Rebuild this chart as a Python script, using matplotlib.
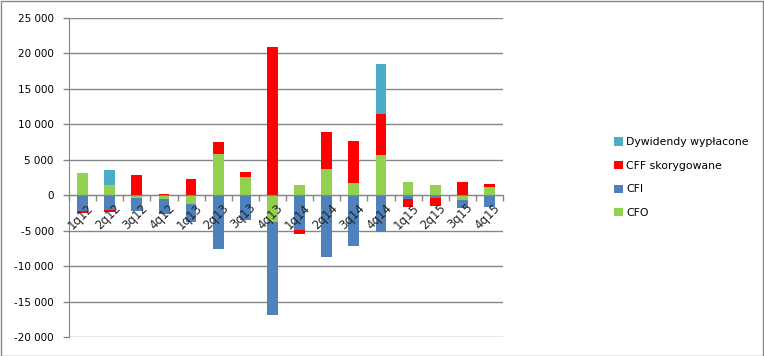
import numpy as np
import matplotlib
matplotlib.use("Agg")
import matplotlib.pyplot as plt
from matplotlib.patches import Rectangle
from matplotlib.ticker import FuncFormatter

quarters = ['1q12', '2q12', '3q12', '4q12', '1q13', '2q13', '3q13', '4q13',
            '1q14', '2q14', '3q14', '4q14', '1q15', '2q15', '3q15', '4q15']

cfo = [3110, 1414, -424, -565, -1272, 5797, 2545, -3817,
       1414, 3676, 1697, 5656, 1838, 1414, -707, 1131]
cfi = [-2262, -2121, -1838, -2121, -2545, -7635, -3535, -13102,
       -4949, -8766, -7211, -5231, -566, -424, -1131, -1697]
cff = [-190, -280, 2828, 141, 2262, 1697, 707, 20926,
       -566, 5231, 5938, 5797, -1131, -1131, 1838, 424]
dyw = [0, 2121, 0, 0, 0, 0, 0, 0,
       0, 0, 0, 7070, 0, 0, 0, 0]

series = [('CFO', cfo, '#92D050'),
          ('CFI', cfi, '#4F81BD'),
          ('CFF skorygowane', cff, '#FF0000'),
          ('Dywidendy wypłacone', dyw, '#4BACC6')]

plt.rcParams['font.family'] = ['DejaVu Sans']
plt.rcParams['font.size'] = 7.5

W, H = 764, 356
fig = plt.figure(figsize=(W / 100, H / 100), dpi=100)
ax = fig.add_axes([69 / W, (H - 337) / H, (503 - 69) / W, (337 - 18) / H])

x = np.arange(len(quarters))
pos_base = np.zeros(len(quarters))
neg_base = np.zeros(len(quarters))
handles = []
for name, vals, col in series:
    v = np.array(vals, dtype=float)
    base = np.where(v >= 0, pos_base, neg_base)
    b = ax.bar(x, v, bottom=base, width=0.4, color=col, label=name, zorder=3)
    handles.append(b)
    pos_base += np.where(v > 0, v, 0)
    neg_base += np.where(v < 0, v, 0)

ax.set_xlim(-0.5, len(quarters) - 0.5)
ax.set_ylim(-20000, 25000)
ax.set_yticks(np.arange(-20000, 25001, 5000))
ax.yaxis.set_major_formatter(FuncFormatter(lambda v, p: f'{int(v):,}'.replace(',', ' ')))
ax.grid(axis='y', color='#868686', linewidth=1, zorder=0)

for s in ['top', 'right']:
    ax.spines[s].set_visible(False)
ax.spines['left'].set_color('#868686')
ax.spines['bottom'].set_position(('data', 0))
ax.spines['bottom'].set_color('#868686')
ax.spines['bottom'].set_zorder(4)
ax.tick_params(axis='y', color='#868686', length=4, width=1, pad=7)
ax.set_xticks(np.arange(-0.5, len(quarters)))
ax.set_xticklabels([])
ax.tick_params(axis='x', color='#868686', length=4, width=1, direction='out')

for i, q in enumerate(quarters):
    ax.text(i + 0.15, -850, q, rotation=45, ha='right', va='top',
            fontsize=8.5, color='#222222', rotation_mode='anchor', zorder=5)

fig.legend(handles[::-1], [s[0] for s in series][::-1], loc='upper left',
           bbox_to_anchor=(610 / W, 1 - 133 / H), frameon=False,
           handlelength=0.8, handleheight=0.8, handletextpad=0.3,
           labelspacing=1.25, borderaxespad=0, fontsize=7.8)

fig.patches.append(Rectangle((0.5 / W, 0.5 / H), 1 - 1.5 / W, 1 - 1.5 / H,
                             transform=fig.transFigure, fill=False,
                             edgecolor='#868686', linewidth=1))

plt.savefig('out.png', dpi=100)
